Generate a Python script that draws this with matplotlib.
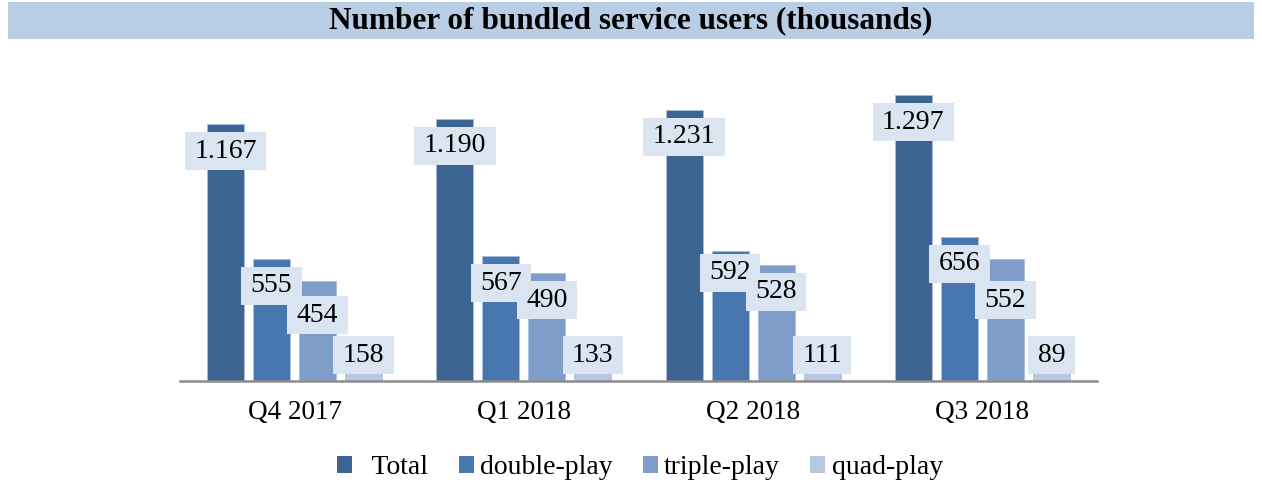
import matplotlib
matplotlib.use("Agg")
import matplotlib.pyplot as plt
import numpy as np
from matplotlib.patches import Rectangle
from matplotlib.path import Path

categories = ["Q4 2017", "Q1 2018", "Q2 2018", "Q3 2018"]
series_names = ["Total", "double-play", "triple-play", "quad-play"]
total = [1167, 1190, 1231, 1297]
double_play = [555, 567, 592, 656]
triple_play = [454, 490, 528, 552]
quad_play = [158, 133, 111, 89]
label_texts = [["1.167", "1.190", "1.231", "1.297"],
               ["555", "567", "592", "656"],
               ["454", "490", "528", "552"],
               ["158", "133", "111", "89"]]

colors = ["#3d6594", "#4876ae", "#7e9dc9", "#b7c6e1"]
box_color = "#dbe5f1"
# per-label vertical nudges (pixels, downward) to mimic reference layout
nudges = [[0, 0, 0, 0],
          [0, 0, -5, 0],
          [7, 0, 0, 14],
          [0, 0, 0, 0]]

W, H = 1262, 483
dpi = 100
fig = plt.figure(figsize=(W / dpi, H / dpi), dpi=dpi)
font = "Liberation Serif"


def label_box(x0, y0, width, height, mutation_size):
    px, py = 9.5, 6.5
    x0 -= px
    y0 -= py
    x1 = x0 + width + 2 * px
    y1 = y0 + height + 2 * py
    return Path([(x0, y0), (x1, y0), (x1, y1), (x0, y1), (x0, y0)], closed=True)


# title band
fig.patches.append(Rectangle((8 / W, 1 - 39 / H), (1254 - 8) / W, 37 / H,
                             transform=fig.transFigure, facecolor="#b9cde5",
                             edgecolor="none", zorder=0))
fig.text(0.5, 1 - 21 / H, "Number of bundled service users (thousands)",
         ha="center", va="center", fontsize=22.5, fontweight="bold",
         family=font, color="black")

ax = fig.add_axes([180 / W, (H - 381) / H, (1097 - 180) / W, (381 - 72.7) / H])
ax.set_xlim(-0.5, 3.5)
ax.set_ylim(0, 1400)

x = np.arange(len(categories))
width = 0.161
step = 0.2007
data = [total, double_play, triple_play, quad_play]
bars = []
for i, (vals, c, name) in enumerate(zip(data, colors, series_names)):
    b = ax.bar(x + (i - 1.5) * step, vals, width=width, color=c,
               edgecolor="#a9bedb", linewidth=0.6, label=name, zorder=2)
    bars.append(b)

fig.canvas.draw()
px_per_unit = ax.transData.transform((0, 1))[1] - ax.transData.transform((0, 0))[1]
pt_per_px = 72 / dpi

for i, vals in enumerate(data):
    for j, v in enumerate(vals):
        xc = x[j] + (i - 1.5) * step
        off = 27 + nudges[i][j]
        hpx = v * px_per_unit
        if hpx - off < 26:
            xy = (xc, 0)
            dy = 26
        else:
            xy = (xc, v)
            dy = -off
        ax.annotate(label_texts[i][j], xy=xy, xytext=(0, dy * pt_per_px),
                    textcoords="offset points", ha="center", va="center",
                    fontsize=20, family=font, color="black",
                    bbox=dict(boxstyle=label_box, facecolor=box_color,
                              edgecolor="none"),
                    zorder=3 + i, annotation_clip=False)

for s in ["top", "right", "left"]:
    ax.spines[s].set_visible(False)
ax.spines["bottom"].set_color("#8c8c8c")
ax.spines["bottom"].set_linewidth(1.8)
ax.set_yticks([])
ax.set_xticks(x)
ax.set_xticklabels(categories, family=font, fontsize=19.5)
ax.tick_params(axis="x", length=0, pad=14)

legend_labels = ["  " + series_names[0]] + series_names[1:]
leg = fig.legend(handles=bars, labels=legend_labels, loc="center",
                 bbox_to_anchor=(0.507, 15 / H), ncol=4, frameon=False,
                 prop={"family": font, "size": 20},
                 handlelength=0.54, handleheight=0.54, handletextpad=0.22,
                 columnspacing=1.1, borderpad=0)
for h in leg.legend_handles:
    h.set_edgecolor("none")

fig.savefig("out.png", dpi=dpi)
